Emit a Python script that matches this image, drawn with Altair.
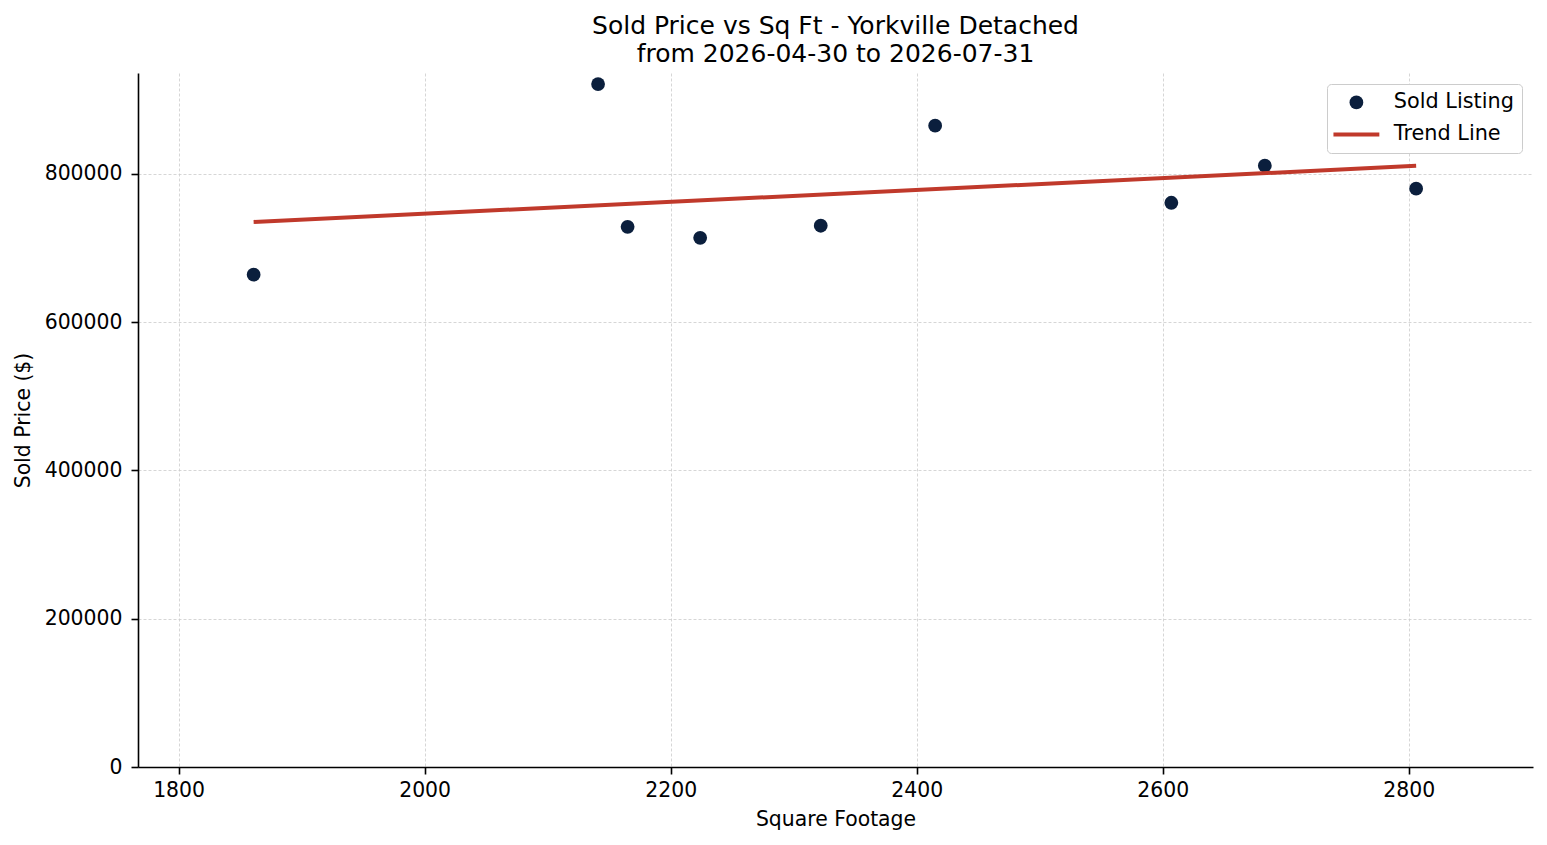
import altair as alt
import pandas as pd

sqft = [1861, 2141, 2165, 2224, 2322, 2415, 2607, 2683, 2806]
price = [664000, 921000, 728500, 713700, 730000, 865000, 761000, 811000, 780000]
series_names = ["Sold Listing", "Trend Line"]
series_colors = ["#0b1f3d", "#c0392b"]
x_ticks = [1800, 2000, 2200, 2400, 2600, 2800]
y_ticks = [0, 200000, 400000, 600000, 800000]
title_lines = ["Sold Price vs Sq Ft - Yorkville Detached", "from 2026-04-30 to 2026-07-31"]

df = pd.DataFrame({"sqft": sqft, "price": price, "series": series_names[0]})

FONT = "DejaVu Sans"

x = alt.X("sqft:Q", title="Square Footage",
          scale=alt.Scale(domain=[1767, 2901], nice=False, zero=False),
          axis=alt.Axis(values=x_ticks, format="d"))
y = alt.Y("price:Q", title="Sold Price ($)",
          scale=alt.Scale(domain=[0, 936000], nice=False),
          axis=alt.Axis(values=y_ticks, format="d"))

points = alt.Chart(df).mark_point(filled=True, opacity=1, size=190).encode(
    x=x, y=y,
    color=alt.Color("series:N", title=None,
                    scale=alt.Scale(domain=series_names, range=series_colors)),
    shape=alt.Shape("series:N", title=None,
                    scale=alt.Scale(domain=series_names,
                                    range=["circle", "M-3.33,-0.29H3.33V0.29H-3.33Z"])),
)

trend = alt.Chart(df).transform_regression("sqft", "price").mark_line(
    color=series_colors[1], strokeWidth=4
).encode(x=x, y=y)

chart = alt.layer(points, trend).properties(
    width=1395, height=694,
    title=alt.TitleParams(text=title_lines, fontSize=25, font=FONT, fontWeight="normal",
                          color="black", anchor="middle", lineHeight=28, offset=6),
    padding={"left": 130, "top": 65, "right": 5, "bottom": 68},
    autosize=alt.AutoSizeParams(type="none"),
).configure_view(stroke=None).configure_axis(
    domainColor="black", domainWidth=1.6, tickColor="black", tickWidth=1.6, tickSize=7,
    labelFont=FONT, labelFontSize=20.4, labelColor="black",
    titleFont=FONT, titleFontSize=20.4, titleFontWeight="normal", titleColor="black",
    gridColor="#cccccc", gridDash=[3, 2], gridWidth=0.8,
).configure_axisY(titlePadding=11, labelPadding=9).configure_axisX(
    titlePadding=9, labelPadding=6
).configure_legend(
    orient="top-right", offset=11, padding=8, strokeColor="#cccccc", cornerRadius=4,
    fillColor="white", labelFont=FONT, labelFontSize=20.8, labelColor="black",
    symbolOffset=11, labelOffset=27, rowPadding=10, symbolSize=190, symbolStrokeWidth=0,
)

chart.save("out.html", embed_options={"renderer": "svg", "actions": False})
